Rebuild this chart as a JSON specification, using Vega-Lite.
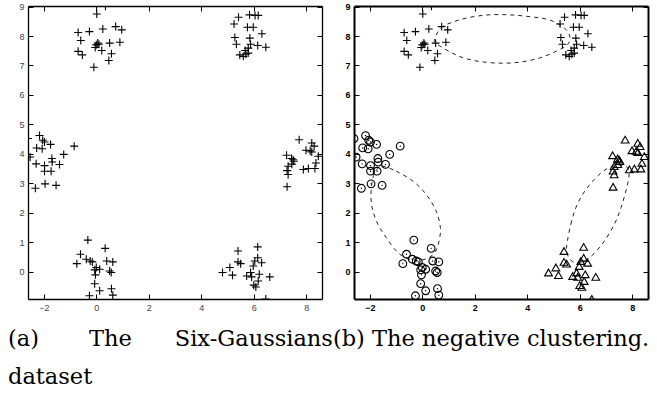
{
  "$schema": "https://vega.github.io/schema/vega-lite/v6.json",
  "padding": {"left": 7, "top": 2, "right": 0, "bottom": 0},
  "autosize": {"type": "pad"},
  "config": {"view": {"stroke": null}, "axis": {"grid": false, "title": null, "labelFont": "Liberation Sans", "labelFontSize": 9, "tickColor": "black", "domainColor": "black"}},
  "title": {
    "text": ["(a)\u00a0\u00a0\u00a0\u00a0\u00a0\u00a0\u00a0The\u00a0\u00a0\u00a0\u00a0\u00a0\u00a0Six-Gaussians(b) The negative clustering.", "dataset"],
    "orient": "bottom", "anchor": "start", "frame": "bounds",
    "font": "DejaVu Serif", "fontSize": 22.5, "fontWeight": "normal", "color": "black",
    "lineHeight": 38, "offset": 16, "dx": -11
  },
  "datasets": {
    "pts": [
      {"x": 0.02, "y": 8.75, "g": "a"}, {"x": 0.35, "y": 9.01, "g": "a"}, {"x": -0.69, "y": 8.12, "g": "a"}, {"x": -0.26, "y": 8.15, "g": "a"},
      {"x": 0.25, "y": 8.24, "g": "a"}, {"x": 0.74, "y": 8.32, "g": "a"}, {"x": 0.97, "y": 8.21, "g": "a"}, {"x": -0.59, "y": 7.85, "g": "a"},
      {"x": 0.06, "y": 7.76, "g": "a"}, {"x": 0.0, "y": 7.70, "g": "a"}, {"x": -0.04, "y": 7.61, "g": "a"}, {"x": 0.1, "y": 7.72, "g": "a"},
      {"x": 0.51, "y": 7.76, "g": "a"}, {"x": 0.9, "y": 7.79, "g": "a"}, {"x": -0.69, "y": 7.48, "g": "a"}, {"x": -0.53, "y": 7.36, "g": "a"},
      {"x": 0.21, "y": 7.51, "g": "a"}, {"x": 0.58, "y": 7.40, "g": "a"}, {"x": 0.48, "y": 7.17, "g": "a"}, {"x": -0.09, "y": 6.94, "g": "a"},
      {"x": 5.25, "y": 8.41, "g": "a"}, {"x": 5.42, "y": 8.64, "g": "a"}, {"x": 5.84, "y": 8.72, "g": "a"}, {"x": 6.05, "y": 8.70, "g": "a"},
      {"x": 6.17, "y": 8.70, "g": "a"}, {"x": 5.76, "y": 8.30, "g": "a"}, {"x": 5.98, "y": 8.30, "g": "a"}, {"x": 6.31, "y": 8.08, "g": "a"},
      {"x": 5.28, "y": 7.95, "g": "a"}, {"x": 5.85, "y": 7.93, "g": "a"}, {"x": 5.34, "y": 7.72, "g": "a"}, {"x": 5.88, "y": 7.72, "g": "a"},
      {"x": 6.15, "y": 7.68, "g": "a"}, {"x": 6.46, "y": 7.62, "g": "a"}, {"x": 5.79, "y": 7.59, "g": "a"}, {"x": 5.67, "y": 7.51, "g": "a"},
      {"x": 5.70, "y": 7.38, "g": "a"}, {"x": 5.47, "y": 7.36, "g": "a"}, {"x": 5.60, "y": 7.31, "g": "a"}, {"x": 5.79, "y": 7.42, "g": "a"},
      {"x": -2.6, "y": 4.52, "g": "b"}, {"x": -2.16, "y": 4.62, "g": "b"}, {"x": -2.04, "y": 4.46, "g": "b"}, {"x": -1.97, "y": 4.40, "g": "b"},
      {"x": -2.27, "y": 4.20, "g": "b"}, {"x": -2.06, "y": 4.17, "g": "b"}, {"x": -1.74, "y": 4.32, "g": "b"}, {"x": -0.84, "y": 4.26, "g": "b"},
      {"x": -2.52, "y": 3.89, "g": "b"}, {"x": -1.24, "y": 3.98, "g": "b"}, {"x": -1.69, "y": 3.84, "g": "b"}, {"x": -2.29, "y": 3.66, "g": "b"},
      {"x": -1.97, "y": 3.60, "g": "b"}, {"x": -1.68, "y": 3.72, "g": "b"}, {"x": -1.40, "y": 3.64, "g": "b"}, {"x": -1.97, "y": 3.41, "g": "b"},
      {"x": -1.72, "y": 3.41, "g": "b"}, {"x": -1.95, "y": 2.98, "g": "b"}, {"x": -1.53, "y": 2.93, "g": "b"}, {"x": -2.32, "y": 2.83, "g": "b"},
      {"x": 7.73, "y": 4.48, "g": "c"}, {"x": 8.21, "y": 4.37, "g": "c"}, {"x": 8.30, "y": 4.26, "g": "c"}, {"x": 7.99, "y": 4.12, "g": "c"},
      {"x": 8.21, "y": 4.06, "g": "c"}, {"x": 7.25, "y": 3.95, "g": "c"}, {"x": 7.44, "y": 3.84, "g": "c"}, {"x": 7.53, "y": 3.75, "g": "c"},
      {"x": 8.46, "y": 3.92, "g": "c"}, {"x": 7.31, "y": 3.58, "g": "c"}, {"x": 7.27, "y": 3.43, "g": "c"}, {"x": 7.31, "y": 3.30, "g": "c"},
      {"x": 7.89, "y": 3.47, "g": "c"}, {"x": 8.08, "y": 3.50, "g": "c"}, {"x": 8.33, "y": 3.50, "g": "c"}, {"x": 8.37, "y": 3.69, "g": "c"},
      {"x": 7.27, "y": 2.88, "g": "c"}, {"x": 8.15, "y": 4.10, "g": "c"}, {"x": 7.50, "y": 3.80, "g": "c"}, {"x": 7.45, "y": 3.65, "g": "c"},
      {"x": -0.32, "y": 1.07, "g": "b"}, {"x": 0.34, "y": 0.79, "g": "b"}, {"x": -0.6, "y": 0.59, "g": "b"}, {"x": -0.74, "y": 0.27, "g": "b"},
      {"x": -0.38, "y": 0.42, "g": "b"}, {"x": -0.15, "y": 0.33, "g": "b"}, {"x": -0.23, "y": 0.36, "g": "b"}, {"x": 0.40, "y": 0.36, "g": "b"},
      {"x": 0.63, "y": 0.33, "g": "b"}, {"x": 0.0, "y": 0.14, "g": "b"}, {"x": -0.06, "y": 0.06, "g": "b"}, {"x": 0.13, "y": 0.08, "g": "b"},
      {"x": 0.51, "y": 0.02, "g": "b"}, {"x": 0.57, "y": -0.03, "g": "b"}, {"x": -0.03, "y": -0.11, "g": "b"}, {"x": -0.06, "y": -0.41, "g": "b"},
      {"x": 0.13, "y": -0.65, "g": "b"}, {"x": 0.58, "y": -0.58, "g": "b"}, {"x": -0.26, "y": -0.82, "g": "b"}, {"x": 0.63, "y": -0.80, "g": "b"},
      {"x": 5.40, "y": 0.70, "g": "c"}, {"x": 6.15, "y": 0.84, "g": "c"}, {"x": 4.81, "y": -0.03, "g": "c"}, {"x": 5.09, "y": 0.14, "g": "c"},
      {"x": 5.19, "y": -0.12, "g": "c"}, {"x": 5.40, "y": 0.33, "g": "c"}, {"x": 5.50, "y": 0.27, "g": "c"}, {"x": 5.73, "y": -0.15, "g": "c"},
      {"x": 5.88, "y": -0.03, "g": "c"}, {"x": 5.92, "y": -0.18, "g": "c"}, {"x": 5.98, "y": 0.19, "g": "c"}, {"x": 6.04, "y": 0.36, "g": "c"},
      {"x": 6.15, "y": 0.47, "g": "c"}, {"x": 6.30, "y": 0.30, "g": "c"}, {"x": 6.21, "y": -0.09, "g": "c"}, {"x": 6.17, "y": -0.32, "g": "c"},
      {"x": 6.0, "y": -0.46, "g": "c"}, {"x": 6.08, "y": -0.52, "g": "c"}, {"x": 6.61, "y": -0.18, "g": "c"}, {"x": 6.46, "y": -0.93, "g": "c"}
    ],
    "ell": [
      {"e": 1, "i": 1, "x": 0.46, "y": 7.85}, {"e": 1, "i": 2, "x": 0.70, "y": 8.27}, {"e": 1, "i": 3, "x": 1.15, "y": 8.47},
      {"e": 1, "i": 4, "x": 1.78, "y": 8.63}, {"e": 1, "i": 5, "x": 2.55, "y": 8.72}, {"e": 1, "i": 6, "x": 3.31, "y": 8.72},
      {"e": 1, "i": 7, "x": 4.07, "y": 8.66}, {"e": 1, "i": 8, "x": 4.84, "y": 8.55}, {"e": 1, "i": 9, "x": 5.41, "y": 8.27},
      {"e": 1, "i": 10, "x": 5.62, "y": 8.0}, {"e": 1, "i": 11, "x": 5.53, "y": 7.70}, {"e": 1, "i": 12, "x": 5.09, "y": 7.48},
      {"e": 1, "i": 13, "x": 4.45, "y": 7.25}, {"e": 1, "i": 14, "x": 3.69, "y": 7.11}, {"e": 1, "i": 15, "x": 2.93, "y": 7.08},
      {"e": 1, "i": 16, "x": 2.16, "y": 7.14}, {"e": 1, "i": 17, "x": 1.53, "y": 7.27}, {"e": 1, "i": 18, "x": 1.02, "y": 7.48},
      {"e": 1, "i": 19, "x": 0.64, "y": 7.68},
      {"e": 2, "i": 1, "x": -1.50, "y": 3.58}, {"e": 2, "i": 2, "x": -0.99, "y": 3.41}, {"e": 2, "i": 3, "x": -0.35, "y": 3.07},
      {"e": 2, "i": 4, "x": 0.15, "y": 2.62}, {"e": 2, "i": 5, "x": 0.53, "y": 2.06}, {"e": 2, "i": 6, "x": 0.69, "y": 1.49},
      {"e": 2, "i": 7, "x": 0.64, "y": 1.04}, {"e": 2, "i": 8, "x": 0.50, "y": 0.68}, {"e": 2, "i": 9, "x": 0.20, "y": 0.45},
      {"e": 2, "i": 10, "x": -0.25, "y": 0.38}, {"e": 2, "i": 11, "x": -0.65, "y": 0.48}, {"e": 2, "i": 12, "x": -0.99, "y": 0.70},
      {"e": 2, "i": 13, "x": -1.37, "y": 1.15}, {"e": 2, "i": 14, "x": -1.69, "y": 1.61}, {"e": 2, "i": 15, "x": -1.91, "y": 2.17},
      {"e": 2, "i": 16, "x": -1.95, "y": 2.73}, {"e": 2, "i": 17, "x": -1.86, "y": 3.25}, {"e": 2, "i": 18, "x": -1.70, "y": 3.50},
      {"e": 3, "i": 1, "x": 5.53, "y": 1.04}, {"e": 3, "i": 2, "x": 5.66, "y": 1.61}, {"e": 3, "i": 3, "x": 5.85, "y": 2.17},
      {"e": 3, "i": 4, "x": 6.11, "y": 2.62}, {"e": 3, "i": 5, "x": 6.43, "y": 3.01}, {"e": 3, "i": 6, "x": 6.81, "y": 3.35},
      {"e": 3, "i": 7, "x": 7.15, "y": 3.55}, {"e": 3, "i": 8, "x": 7.50, "y": 3.62}, {"e": 3, "i": 9, "x": 7.80, "y": 3.55},
      {"e": 3, "i": 10, "x": 7.88, "y": 3.30}, {"e": 3, "i": 11, "x": 7.79, "y": 2.85}, {"e": 3, "i": 12, "x": 7.57, "y": 2.17},
      {"e": 3, "i": 13, "x": 7.32, "y": 1.61}, {"e": 3, "i": 14, "x": 6.94, "y": 1.04}, {"e": 3, "i": 15, "x": 6.55, "y": 0.62},
      {"e": 3, "i": 16, "x": 6.20, "y": 0.38}, {"e": 3, "i": 17, "x": 5.85, "y": 0.30}, {"e": 3, "i": 18, "x": 5.60, "y": 0.45},
      {"e": 3, "i": 19, "x": 5.50, "y": 0.72}
    ]
  },
  "spacing": 21,
  "hconcat": [
    {
      "width": 294, "height": 293,
      "data": {"name": "pts"},
      "resolve": {"axis": {"x": "independent", "y": "independent"}},
      "layer": [
        {
          "mark": {"type": "point", "shape": "M-1,0H1M0,-1V1", "size": 64, "filled": false, "stroke": "black", "strokeWidth": 1.1, "opacity": 1, "clip": true},
          "encoding": {
            "x": {"field": "x", "type": "quantitative", "scale": {"domain": [-2.6, 8.6], "nice": false, "zero": false},
                  "axis": {"orient": "bottom", "values": [-2, 0, 2, 4, 6, 8], "tickSize": -5, "labelPadding": 9, "domainWidth": 1.3, "labelColor": "#444"}},
            "y": {"field": "y", "type": "quantitative", "scale": {"domain": [-0.93, 9.02], "nice": false, "zero": false},
                  "axis": {"orient": "left", "values": [0, 1, 2, 3, 4, 5, 6, 7, 8, 9], "tickSize": -5, "labelPadding": 9, "domainWidth": 1.3, "labelColor": "#444"}}
          }
        },
        {
          "mark": {"type": "point", "opacity": 0},
          "encoding": {
            "x": {"field": "x", "type": "quantitative", "axis": {"orient": "top", "values": [-2, 0, 2, 4, 6, 8], "tickSize": -5, "labels": false, "domainWidth": 1.3}},
            "y": {"field": "y", "type": "quantitative", "axis": {"orient": "right", "values": [0, 1, 2, 3, 4, 5, 6, 7, 8, 9], "tickSize": -5, "labels": false, "domainWidth": 1.3}}
          }
        }
      ]
    },
    {
      "width": 294, "height": 293,
      "resolve": {"axis": {"x": "independent", "y": "independent"}},
      "layer": [
        {
          "data": {"name": "ell"},
          "mark": {"type": "line", "interpolate": "cardinal-closed", "strokeDash": [4, 4], "stroke": "#222", "strokeWidth": 1, "clip": true},
          "encoding": {
            "x": {"field": "x", "type": "quantitative", "scale": {"domain": [-2.6, 8.6], "nice": false, "zero": false},
                  "axis": {"orient": "top", "values": [-2, 0, 2, 4, 6, 8], "tickSize": -5, "labels": false, "domainWidth": 2}},
            "y": {"field": "y", "type": "quantitative", "scale": {"domain": [-0.93, 9.02], "nice": false, "zero": false},
                  "axis": {"orient": "right", "values": [0, 1, 2, 3, 4, 5, 6, 7, 8, 9], "tickSize": -5, "labels": false, "domainWidth": 2}},
            "detail": {"field": "e"},
            "order": {"field": "i"}
          }
        },
        {
          "data": {"name": "pts"},
          "mark": {"type": "point", "size": 60, "filled": false, "stroke": "black", "strokeWidth": 1.1, "opacity": 1, "clip": true},
          "encoding": {
            "x": {"field": "x", "type": "quantitative",
                  "axis": {"orient": "bottom", "values": [-2, 0, 2, 4, 6, 8], "tickSize": -5, "labelPadding": 9, "domainWidth": 2, "labelFontWeight": "bold", "labelColor": "black"}},
            "y": {"field": "y", "type": "quantitative",
                  "axis": {"orient": "left", "values": [0, 1, 2, 3, 4, 5, 6, 7, 8, 9], "tickSize": -5, "labelPadding": 9, "domainWidth": 2, "labelFontWeight": "bold", "labelColor": "black"}},
            "shape": {"field": "g", "type": "nominal", "legend": null,
                      "scale": {"domain": ["a", "b", "c"], "range": ["M-1,0H1M0,-1V1", "circle", "triangle-up"]}}
          }
        },
        {
          "data": {"name": "pts"},
          "transform": [{"filter": "datum.g === 'b'"}],
          "mark": {"type": "circle", "size": 2, "color": "black", "opacity": 1, "clip": true},
          "encoding": {
            "x": {"field": "x", "type": "quantitative", "axis": null},
            "y": {"field": "y", "type": "quantitative", "axis": null}
          }
        }
      ]
    }
  ]
}
